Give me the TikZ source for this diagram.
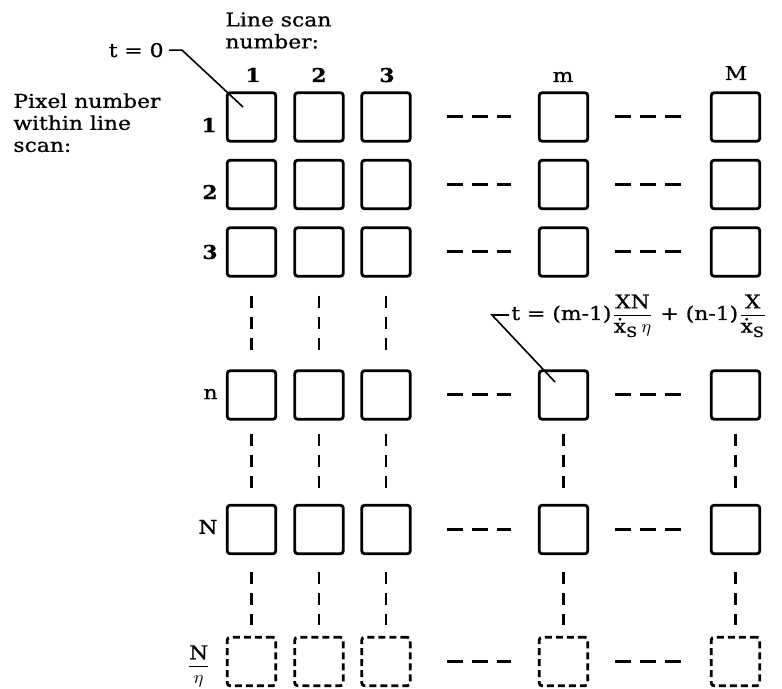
\documentclass[tikz,border=0pt]{standalone}
\usepackage{amsmath}
\usepackage{fontspec}
\setmainfont[FakeStretch=1.15,FakeBold=0.8]{DejaVu Serif}
\usetikzlibrary{calc}
\begin{document}
\begin{tikzpicture}[x=0.5pt,y=-0.5pt,
  pix/.style={draw, line width=1.4pt, rounded corners=1.5pt, minimum size=24.3pt, inner sep=0pt},
  pixd/.style={pix, dash pattern=on 3.5pt off 2pt},
  hdots/.style={line width=1.5pt, dash pattern=on 8pt off 4.5pt},
  vdots/.style={line width=1.2pt, dash pattern=on 6pt off 4.5pt},
  lab/.style={font=\fontsize{9.5}{11}\selectfont, inner sep=0pt},
  lead/.style={line width=0.8pt}]
\useasboundingbox (0,0) rectangle (782,689);
% pixel boxes
\foreach \r/\y in {1/117,2/184.5,3/252,n/395,NN/529.5}{
  \foreach \c/\x in {1/251.5,2/319,3/386,m/563.5,M/735.5}{
    \node[pix] (p\r\c) at (\x,\y) {};
  }
}
\foreach \c/\x in {1/251.5,2/319,3/386,m/563.5,M/735.5}{
  \node[pixd] (pe\c) at (\x,661.5) {};
}
% horizontal ellipsis dashes
\foreach \r in {1,2,3,n,NN,e}{
  \draw[hdots, shorten <=17.5pt, shorten >=13.5pt] (p\r3.east) -- (p\r m.west);
  \draw[hdots, shorten <=13pt, shorten >=11pt] (p\r m.east) -- (p\r M.west);
}
% vertical ellipsis dashes
\foreach \c in {1,2,3}{
  \draw[vdots, shorten <=9pt, shorten >=5.5pt] (p3\c.south) -- (pn\c.north);
}
\foreach \c in {1,2,3,m,M}{
  \draw[vdots, shorten <=6.5pt, shorten >=6.5pt] (pn\c.south) -- (pNN\c.north);
  \draw[vdots, shorten <=8.5pt, shorten >=5.5pt] (pNN\c.south) -- (pe\c.north);
}
% column headers
\node[lab, anchor=base] (h1) at (253,82) {\bfseries 1};
\node[lab, anchor=base] (h2) at (319,82) {\bfseries 2};
\node[lab, anchor=base] (h3) at (387,82) {\bfseries 3};
\node[lab, anchor=base] (hm) at (563,82) {m};
\node[lab, anchor=base] (hM) at (736,80) {M};
% row labels
\node[lab, anchor=east] (r1) at (217,125) {\bfseries 1};
\node[lab, anchor=east] (r2) at (218,192) {\bfseries 2};
\node[lab, anchor=east] (r3) at (218,252) {\bfseries 3};
\node[lab, anchor=east] (rn) at (218,394) {n};
\node[lab, anchor=east] (rN) at (218,527) {N};
\node[lab, anchor=east] (re) at (211,666) {$\dfrac{\mbox{N}}{\eta}$};
% titles
\node[lab, anchor=north west, align=left] (ls) at (225,12) {Line scan\\number:};
\node[lab, anchor=north west, align=left] (pn) at (13,93) {Pixel number\\within line\\scan:};
% t = 0 leader
\node[lab, anchor=base east] (t0) at (164,57) {t = 0};
\draw[lead] ($(t0.east)+(5,0)$) -- ++(13,0) -- ($(p11.center)+(-8.5,-10)$);
% formula leader
\node[lab, anchor=base west] (f) at (511,320) {t = (m-1)$\dfrac{\mbox{XN}}{\mbox{ẋ}_{\mbox{\fontsize{7}{8}\selectfont S}}\,\eta}$ + (n-1)$\dfrac{\mbox{X}}{\mbox{ẋ}_{\mbox{\fontsize{7}{8}\selectfont S}}}$};
\draw[lead] ($(f.base west)+(-2,-5)$) -- ++(-17,0) -- ($(pnm.center)+(-8.5,-13)$);
\end{tikzpicture}
\end{document}
